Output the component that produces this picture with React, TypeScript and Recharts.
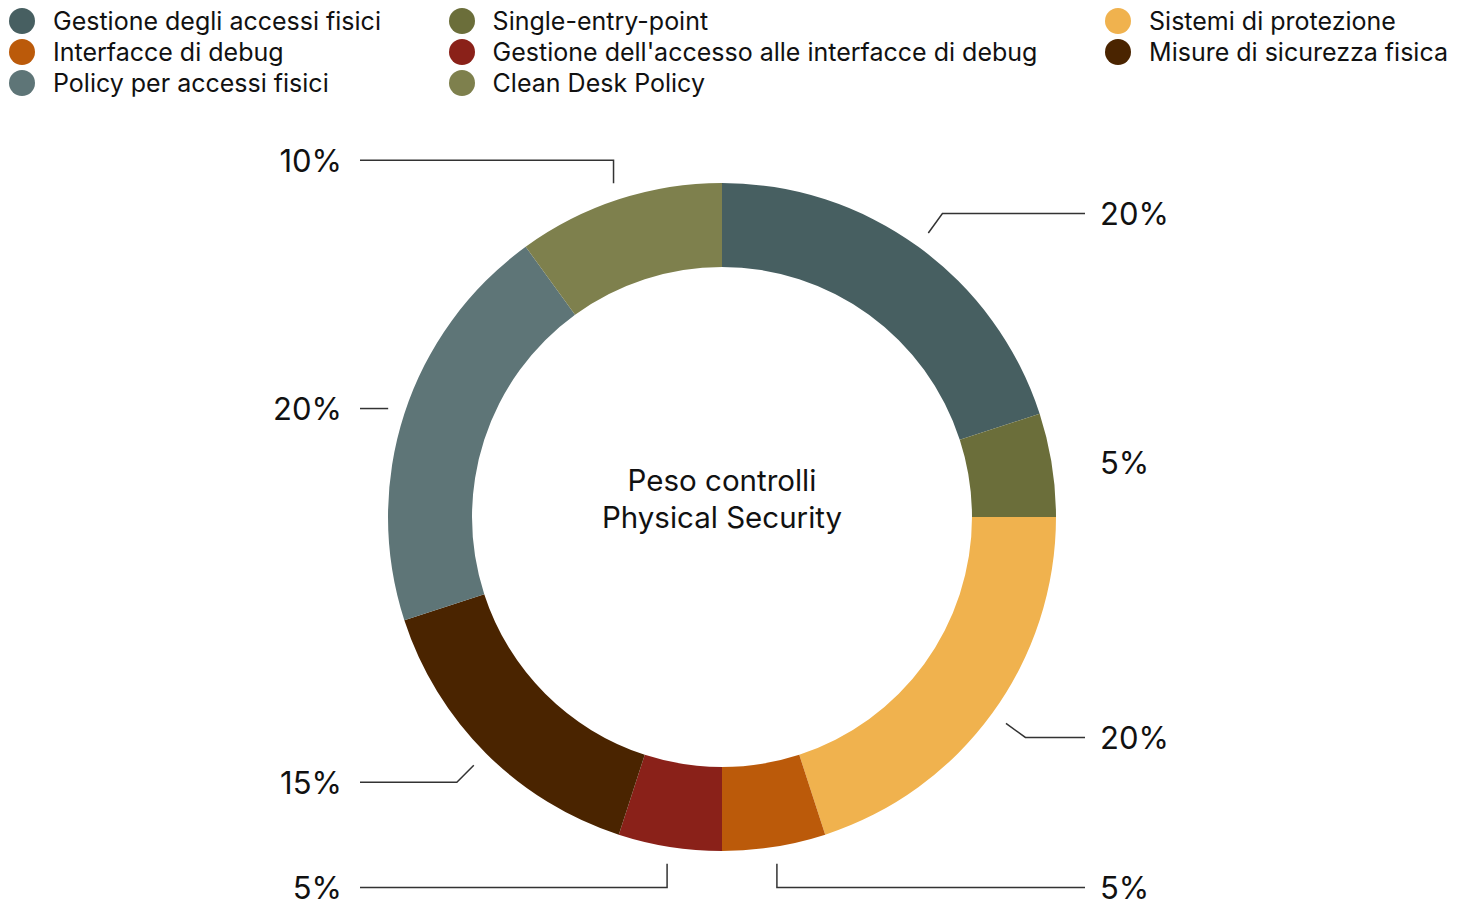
import { PieChart, Pie, Cell, Legend } from 'recharts'

const categories = [
  'Gestione degli accessi fisici',
  'Single-entry-point',
  'Sistemi di protezione',
  'Interfacce di debug',
  "Gestione dell'accesso alle interfacce di debug",
  'Misure di sicurezza fisica',
  'Policy per accessi fisici',
  'Clean Desk Policy',
]

const weights = [20, 5, 20, 5, 5, 15, 20, 10]

const COLORS = [
  '#475f61', // slate
  '#6b6e3a', // olive dark
  '#f0b24e', // amber
  '#bb5a0a', // orange
  '#8a2119', // red
  '#4a2400', // brown
  '#5e7577', // grey blue
  '#7e804d', // olive light
]

const data = categories.map((name, i) => ({ name, value: weights[i], color: COLORS[i] }))

const FONT = 'Inter, "Liberation Sans", sans-serif'
const RADIAN = Math.PI / 180

function renderLabel(props: any) {
  const { cx, cy, midAngle, outerRadius, percent } = props
  const cos = Math.cos(-midAngle * RADIAN)
  const sin = Math.sin(-midAngle * RADIAN)
  const right = cos >= 0
  const sx = cx + (outerRadius + 17) * cos
  const sy = cy + (outerRadius + 17) * sin
  let ex = cx + (outerRadius + 41) * cos
  let ey = cy + (outerRadius + 41) * sin
  // near the horizontal axis the leader is just a straight stub
  if (Math.abs(sin) < 0.35) {
    ex = sx
    ey = sy
  }
  // near the vertical axis the elbow drops straight down / up
  if (Math.abs(cos) < 0.35) {
    ex = sx
  }
  const endX = cx + (right ? 363 : -362)
  const textX = cx + (right ? 378 : -380)
  const showLine = right ? endX - sx > 20 : sx - endX > 20

  return (
    <g>
      {showLine && (
        <polyline
          points={`${sx},${sy} ${ex},${ey} ${endX},${ey}`}
          fill="none"
          stroke="#333"
          strokeWidth={1.5}
        />
      )}
      <text
        x={textX}
        y={ey}
        textAnchor={right ? 'start' : 'end'}
        dominantBaseline="central"
        fill="#111"
        fontSize={31}
        fontFamily={FONT}
      >
        {`${Math.round(percent * 100)}%`}
      </text>
    </g>
  )
}

function renderLegend() {
  return (
    <div
      style={{
        height: 100,
        display: 'grid',
        gridTemplateColumns: 'repeat(3, auto)',
        justifyContent: 'space-between',
        rowGap: 5,
        alignContent: 'start',
        paddingLeft: 1,
        paddingRight: 13,
        boxSizing: 'border-box',
        fontFamily: FONT,
      }}
    >
      {data.map((d) => (
        <div key={d.name} style={{ display: 'flex', alignItems: 'center', height: 26 }}>
          <span
            style={{ width: 26, height: 26, borderRadius: '50%', background: d.color, flexShrink: 0 }}
          />
          <span style={{ marginLeft: 18, fontSize: 25, color: '#111', whiteSpace: 'nowrap' }}>
            {d.name}
          </span>
        </div>
      ))}
    </div>
  )
}

export default function App() {
  return (
    <div style={{ position: 'relative', width: 1453, height: 891, fontFamily: FONT }}>
      <PieChart width={1453} height={891} margin={{ top: 0, right: 0, bottom: 0, left: 0 }}>
        <Legend
          verticalAlign="top"
          align="left"
          content={renderLegend}
          wrapperStyle={{ top: 0, left: 0, width: 1453, height: 100 }}
        />
        <Pie
          data={data}
          dataKey="value"
          cx={714}
          cy={409}
          startAngle={90}
          endAngle={-270}
          innerRadius={250}
          outerRadius={334}
          stroke="none"
          labelLine={false}
          label={renderLabel}
          isAnimationActive={false}
        >
          {data.map((d) => (
            <Cell key={d.name} fill={d.color} />
          ))}
        </Pie>
      </PieChart>
      {/* Center label */}
      <div
        style={{
          position: 'absolute',
          left: 514,
          top: 454,
          width: 400,
          textAlign: 'center',
          fontSize: 29.5,
          lineHeight: '37px',
          color: '#111',
          pointerEvents: 'none',
        }}
      >
        Peso controlli
        <br />
        Physical Security
      </div>
    </div>
  )
}
